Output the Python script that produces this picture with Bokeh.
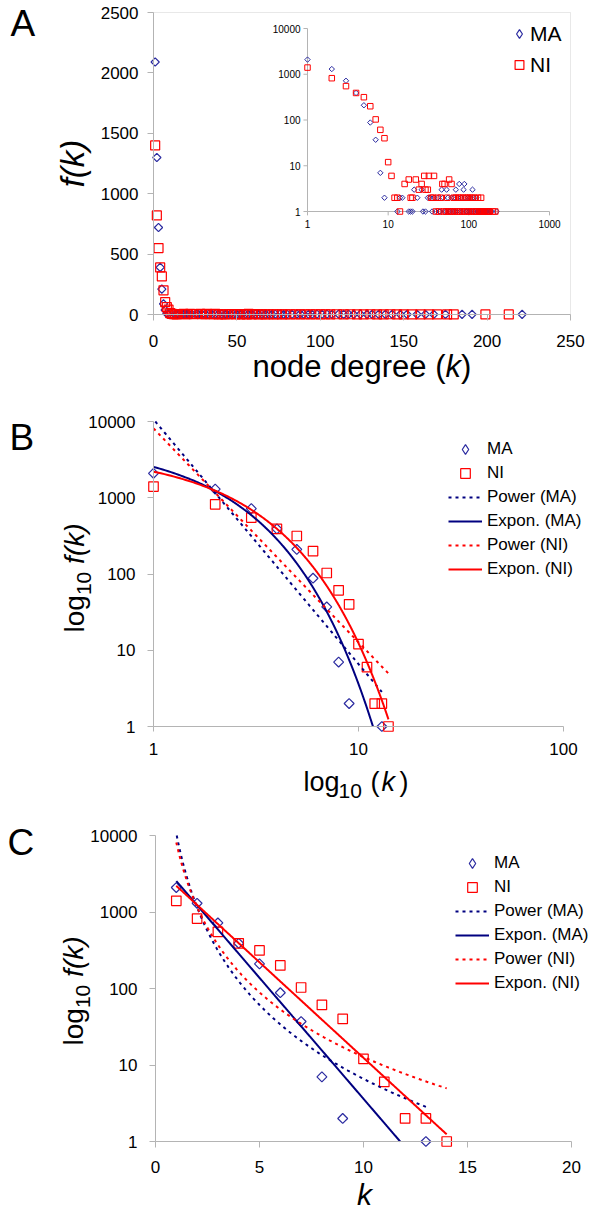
import numpy as np
from bokeh.plotting import figure
from bokeh.layouts import column
from bokeh.models import (Range1d, FixedTicker, NumeralTickFormatter, Label,
                          Legend, LegendItem, BoxAnnotation)
from bokeh.core.properties import value
from bokeh.embed import file_html
from bokeh.resources import INLINE

FONT = "Liberation Sans"
GRAY = "#b4b4b4"
MA_MARK = "#2a2aa0"
MA_LINE = "#000080"
NI_COL = "#ff0000"

# ---------------- data ----------------
# degree distribution, low degrees (panels B, C and start of A)
ma_k = [1, 2, 3, 4, 5, 6, 7, 8, 9, 13]
ma_f = [2090, 1300, 720, 390, 210, 88, 37, 7, 2, 1]
ni_k = [1, 2, 3, 4, 5, 6, 7, 8, 9, 10, 11, 12, 13, 14]
ni_f = [1400, 820, 550, 390, 315, 200, 103, 61, 40, 12, 6, 2, 2, 1]

# higher degrees (panel A and its inset only)
ma_tail_k = [14, 15, 18, 19, 20, 21, 23, 26, 27, 29, 31, 33, 35, 37, 39, 41, 43, 44,
             46, 48, 50, 52, 53, 55, 57, 59, 61, 63, 65, 67, 69, 71, 73, 76, 78, 80,
             83, 86, 88, 90, 93, 95, 98, 101, 104, 107, 111, 114, 117, 120, 124, 128,
             131, 135, 139, 143, 148, 152, 158, 163, 168, 175, 185, 191, 221]
ma_tail_f = [2, 2, 1, 1, 1, 3, 2, 3, 1, 1, 2, 2, 1, 2, 1, 2, 1, 1,
             3, 2, 1, 1, 3, 2, 1, 1, 2, 1, 2, 1, 3, 1, 2, 4, 1, 2,
             1, 3, 4, 2, 1, 1, 2, 1, 2, 1, 3, 1, 2, 1, 2, 1,
             1, 1, 1, 1, 1, 1, 1, 1, 1, 1, 1, 1, 1]
ni_tail_k = [16, 18, 19, 20, 22, 24, 26, 28, 29, 31, 32, 34, 36, 37, 39, 41, 43, 45,
             47, 49, 50, 52, 54, 56, 57, 59, 61, 63, 65, 67, 69, 72, 74, 77, 79, 82,
             85, 88, 91, 94, 97, 100, 103, 106, 110, 114, 118, 122, 126, 130, 134,
             138, 142, 146, 150, 155, 160, 165, 170, 176, 180, 199, 213]
ni_tail_f = [4, 5, 2, 2, 5, 3, 4, 6, 3, 3, 6, 2, 2, 6, 1, 2, 1, 2,
             4, 1, 4, 1, 2, 1, 5, 1, 4, 1, 2, 1, 2, 1, 2, 1, 2, 1,
             2, 1, 2, 1, 2, 1, 2, 1, 2, 1, 2, 1, 1, 2, 1,
             1, 2, 1, 1, 1, 1, 1, 1, 1, 1, 1, 1]

a_xticks = [0, 50, 100, 150, 200, 250]
a_yticks = [0, 500, 1000, 1500, 2000, 2500]
log_yticks = [1, 10, 100, 1000, 10000]
b_xticks = [1, 10, 100]
c_xticks = [0, 5, 10, 15, 20]
inset_xticks = [1, 10, 100, 1000]
inset_yticks = [1, 10, 100, 1000, 10000]

A_ma_k = ma_k + ma_tail_k
A_ma_f = ma_f + ma_tail_f
A_ni_k = ni_k + ni_tail_k
A_ni_f = ni_f + ni_tail_f

# ---------------- trend lines (least squares, as Excel does), kept inside 1..10000 ----
def power_curve(k, f):
    b, a = np.polyfit(np.log10(k), np.log10(f), 1)
    lo = max(np.log10(min(k)), (4 - a) / b)
    hi = min(np.log10(max(k)), (0 - a) / b)
    kk = 10 ** np.linspace(lo, hi, 300)
    return kk, 10 ** (a + b * np.log10(kk))


def expon_curve(k, f):
    b, a = np.polyfit(np.asarray(k, float), np.log10(f), 1)
    lo = max(min(k), (4 - a) / b)
    hi = min(max(k), (0 - a) / b)
    kk = np.linspace(lo, hi, 300)
    return kk, 10 ** (a + b * kk)


ma_pow = power_curve(ma_k, ma_f)
ma_exp = expon_curve(ma_k, ma_f)
ni_pow = power_curve(ni_k, ni_f)
ni_exp = expon_curve(ni_k, ni_f)

# ---------------- layout helpers (pixel anchors of each plot area) ----------------
W = 600
HA, HB, HC = 400, 405, 409


def make_fig(h, xr, yr, xtype="linear", ytype="linear"):
    p = figure(width=W, height=h, x_range=Range1d(*xr), y_range=Range1d(*yr),
               x_axis_type=xtype, y_axis_type=ytype,
               output_backend="svg", toolbar_location=None,
               min_border_left=0, min_border_right=0, min_border_top=0,
               min_border_bottom=0)
    p.grid.visible = False
    p.outline_line_color = None
    p.background_fill_color = "white"
    p.border_fill_color = "white"
    return p


def style(p, xticks, yticks, xfix, yfix, xb, yb, xstand, ystand, logx=False, logy=False,
          tick_out_x=6):
    for ax in (p.xaxis[0], p.yaxis[0]):
        ax.axis_line_color = GRAY
        ax.axis_line_width = 1
        ax.major_tick_line_color = GRAY
        ax.minor_tick_line_color = None
        ax.major_tick_in = 0
        ax.major_tick_out = 6
        ax.major_label_text_font = FONT
        ax.major_label_text_font_size = "17px"
        ax.major_label_text_color = "black"
    p.xaxis[0].major_tick_out = tick_out_x
    p.xaxis[0].fixed_location = xfix
    p.yaxis[0].fixed_location = yfix
    p.xaxis[0].bounds = xb
    p.yaxis[0].bounds = yb
    p.xaxis[0].major_label_standoff = xstand
    p.yaxis[0].major_label_standoff = ystand
    p.xaxis[0].ticker = FixedTicker(ticks=xticks)
    p.yaxis[0].ticker = FixedTicker(ticks=yticks)
    if logx:
        p.xaxis[0].formatter = NumeralTickFormatter(format="0")
    if logy:
        p.yaxis[0].formatter = NumeralTickFormatter(format="0")


def lab(p, conv, text, px, py, fs, italic=False, vertical=False, align="left"):
    """Place a text whose baseline passes through page-pixel (px, py) of this canvas."""
    X, Y = conv
    shift = 0.4 * fs          # Label anchors near the middle of the text line
    if vertical:
        x, y, ang = X(px - shift), Y(py), np.pi / 2
    else:
        x, y, ang = X(px), Y(py - shift), 0.0
    p.add_layout(Label(x=x, y=y, text=text,
                       text_font=FONT, text_font_size=f"{fs}px",
                       text_font_style="italic" if italic else "normal",
                       text_color="black", angle=ang, text_align=align,
                       text_baseline="alphabetic"))


def diamond(target, k, f, size, width=1.2):
    return target.scatter(k, f, marker="square", angle=np.pi / 4, size=size,
                          line_color=MA_MARK, fill_color=None, line_width=width)


def square(target, k, f, size, width=1.2):
    return target.scatter(k, f, marker="square", size=size,
                          line_color=NI_COL, fill_color=None, line_width=width)


def legend_diamond(p):
    # renderer with a single undrawable (NaN) point; only its legend swatch shows
    return p.scatter([np.nan], [np.nan], marker="diamond", line_color=MA_MARK,
                     fill_color=None, line_width=1.2)

# ---------------- panel A (linear; frame fills canvas, axes at fixed places) -------
# k: 0 -> x 153 px, 250 -> x 570 px ; f: 0 -> y 314 px, 2500 -> y 12 px
ax_px = (570 - 153) / 250.0
ay_px = (314 - 12) / 2500.0
AX = lambda px: (px - 153) / ax_px
AY = lambda py: (314 - py) / ay_px

pA = make_fig(HA, (AX(0), AX(W)), (AY(HA), AY(0)))
style(pA, a_xticks, a_yticks, 0, 0, (0, 250), (0, 2500), 14, 9)
pA.add_layout(BoxAnnotation(left=0, right=250, bottom=0, top=2500, fill_alpha=0,
                            line_color=GRAY, line_width=1))
rA_ma = diamond(pA, A_ma_k, A_ma_f, 5.8)
rA_ni = square(pA, A_ni_k, A_ni_f, 9)
legA_ma = legend_diamond(pA)

# inset (log-log): decades drawn through a linear sub-coordinate system
ins = pA.subplot(x_source=Range1d(0, 3), y_source=Range1d(0, 4),
                 x_target=Range1d(AX(307), AX(549)), y_target=Range1d(AY(211), AY(28)))
lx_t = np.log10(inset_xticks)
ly_t = np.log10(inset_yticks)
ins.segment(x0=[0, 0], y0=[0, 0], x1=[0, 3], y1=[4, 0], line_color=GRAY, line_width=1)
ins.segment(x0=[0] * len(ly_t), y0=ly_t, x1=[-0.05] * len(ly_t), y1=ly_t,
            line_color=GRAY)
ins.segment(x0=lx_t, y0=[0] * len(lx_t), x1=lx_t, y1=[-0.085] * len(lx_t),
            line_color=GRAY)
ins.text(x=[0] * len(ly_t), y=ly_t, text=[str(t) for t in inset_yticks],
         x_offset=-7, text_align="right", text_baseline="middle",
         text_font=value(FONT), text_font_size=value("10px"), text_color="black")
ins.text(x=lx_t, y=[0] * len(lx_t), text=[str(t) for t in inset_xticks],
         y_offset=8, text_align="center", text_baseline="top",
         text_font=value(FONT), text_font_size=value("10px"), text_color="black")
ins.scatter(np.log10(A_ma_k), np.log10(A_ma_f), marker="square", angle=np.pi / 4,
            size=3.8, line_color=MA_MARK, fill_color=None, line_width=1)
ins.scatter(np.log10(A_ni_k), np.log10(A_ni_f), marker="square", size=5.5,
            line_color=NI_COL, fill_color=None, line_width=1)

legA = Legend(items=[LegendItem(label="MA", renderers=[legA_ma]),
                     LegendItem(label="NI", renderers=[rA_ni])],
              location=(508, 320), glyph_width=22, glyph_height=31, spacing=0,
              padding=0, margin=0, label_standoff=0,
              label_text_font=FONT, label_text_font_size="21px",
              label_text_color="black",
              background_fill_alpha=0, border_line_alpha=0)
pA.add_layout(legA)

cA = (AX, AY)
lab(pA, cA, "A", 10, 38, 37)
lab(pA, cA, "f(k)", 85, 163, 33, italic=True, vertical=True, align="center")
lab(pA, cA, "node degree (", 252, 378, 31)
lab(pA, cA, "k", 445, 378, 31, italic=True)
lab(pA, cA, ")", 460.5, 378, 31)


# ---------------- panels B and C ----------------
def add_fits(p, lx, ly):
    r_ma = diamond(p, ma_k, ma_f, 7)
    r_ni = square(p, ni_k, ni_f, 9.5)
    r_pm = p.line(ma_pow[0], ma_pow[1], line_color=MA_LINE, line_width=2, line_dash="3 4")
    r_em = p.line(ma_exp[0], ma_exp[1], line_color=MA_LINE, line_width=2)
    r_pn = p.line(ni_pow[0], ni_pow[1], line_color=NI_COL, line_width=2, line_dash="3 4")
    r_en = p.line(ni_exp[0], ni_exp[1], line_color=NI_COL, line_width=2)
    r_ld = legend_diamond(p)
    leg = Legend(items=[LegendItem(label="MA", renderers=[r_ld]),
                        LegendItem(label="NI", renderers=[r_ni]),
                        LegendItem(label="Power (MA)", renderers=[r_pm]),
                        LegendItem(label="Expon. (MA)", renderers=[r_em]),
                        LegendItem(label="Power (NI)", renderers=[r_pn]),
                        LegendItem(label="Expon. (NI)", renderers=[r_en])],
                 location=(lx, ly), glyph_width=34, glyph_height=24, spacing=0,
                 padding=0, margin=0, label_standoff=5,
                 label_text_font=FONT, label_text_font_size="17px",
                 label_text_color="black",
                 background_fill_alpha=0, border_line_alpha=0)
    p.add_layout(leg)


# B (canvas starts at page y 400): log k: 1 -> x 153, decade 205 px ;
# log f: 1 -> y 326 (canvas), decade 76.25 px
BX = lambda px: 10 ** ((px - 153) / 205.0)
BY = lambda py: 10 ** ((326 - py) / 76.25)
pB = make_fig(HB, (BX(0), BX(W)), (BY(HB), BY(0)), "log", "log")
style(pB, b_xticks, log_yticks, 1, 1, (1, 100), (1, 10000), 11, 12, logx=True, logy=True,
      tick_out_x=5)
add_fits(pB, 448, 224)
cB = (BX, BY)
lab(pB, cB, "B", 9, 52, 37)
lab(pB, cB, "log", 85, 232, 28, vertical=True)
lab(pB, cB, "10", 92, 194.6, 21, vertical=True)
lab(pB, cB, "f(k)", 85, 163.4, 28, italic=True, vertical=True)
lab(pB, cB, "log", 303, 392, 27)
lab(pB, cB, "10", 338, 399, 21)
lab(pB, cB, "(", 370, 392, 27)
lab(pB, cB, "k", 381, 392, 27, italic=True)
lab(pB, cB, ")", 399, 392, 27)

# C (canvas starts at page y 805): k: 0 -> x 155, 20.8 px per unit ;
# log f: 1 -> y 336 (canvas), decade 76.5 px
CX = lambda px: (px - 155) / 20.8
CY = lambda py: 10 ** ((336 - py) / 76.5)
pC = make_fig(HC, (CX(0), CX(W)), (CY(HC), CY(0)), "linear", "log")
style(pC, c_xticks, log_yticks, 1, 0, (0, 20), (1, 10000), 13, 12, logy=True)
add_fits(pC, 455, 219)
cC = (CX, CY)
lab(pC, cC, "C", 7, 52, 37)
lab(pC, cC, "log", 84, 240, 28, vertical=True)
lab(pC, cC, "10", 91, 202.6, 21, vertical=True)
lab(pC, cC, "f(k)", 84, 171.4, 28, italic=True, vertical=True)
lab(pC, cC, "k", 364, 401, 30, italic=True, align="center")

layout = column(pA, pB, pC, spacing=0)
open("out.html", "w").write(file_html(layout, INLINE))
